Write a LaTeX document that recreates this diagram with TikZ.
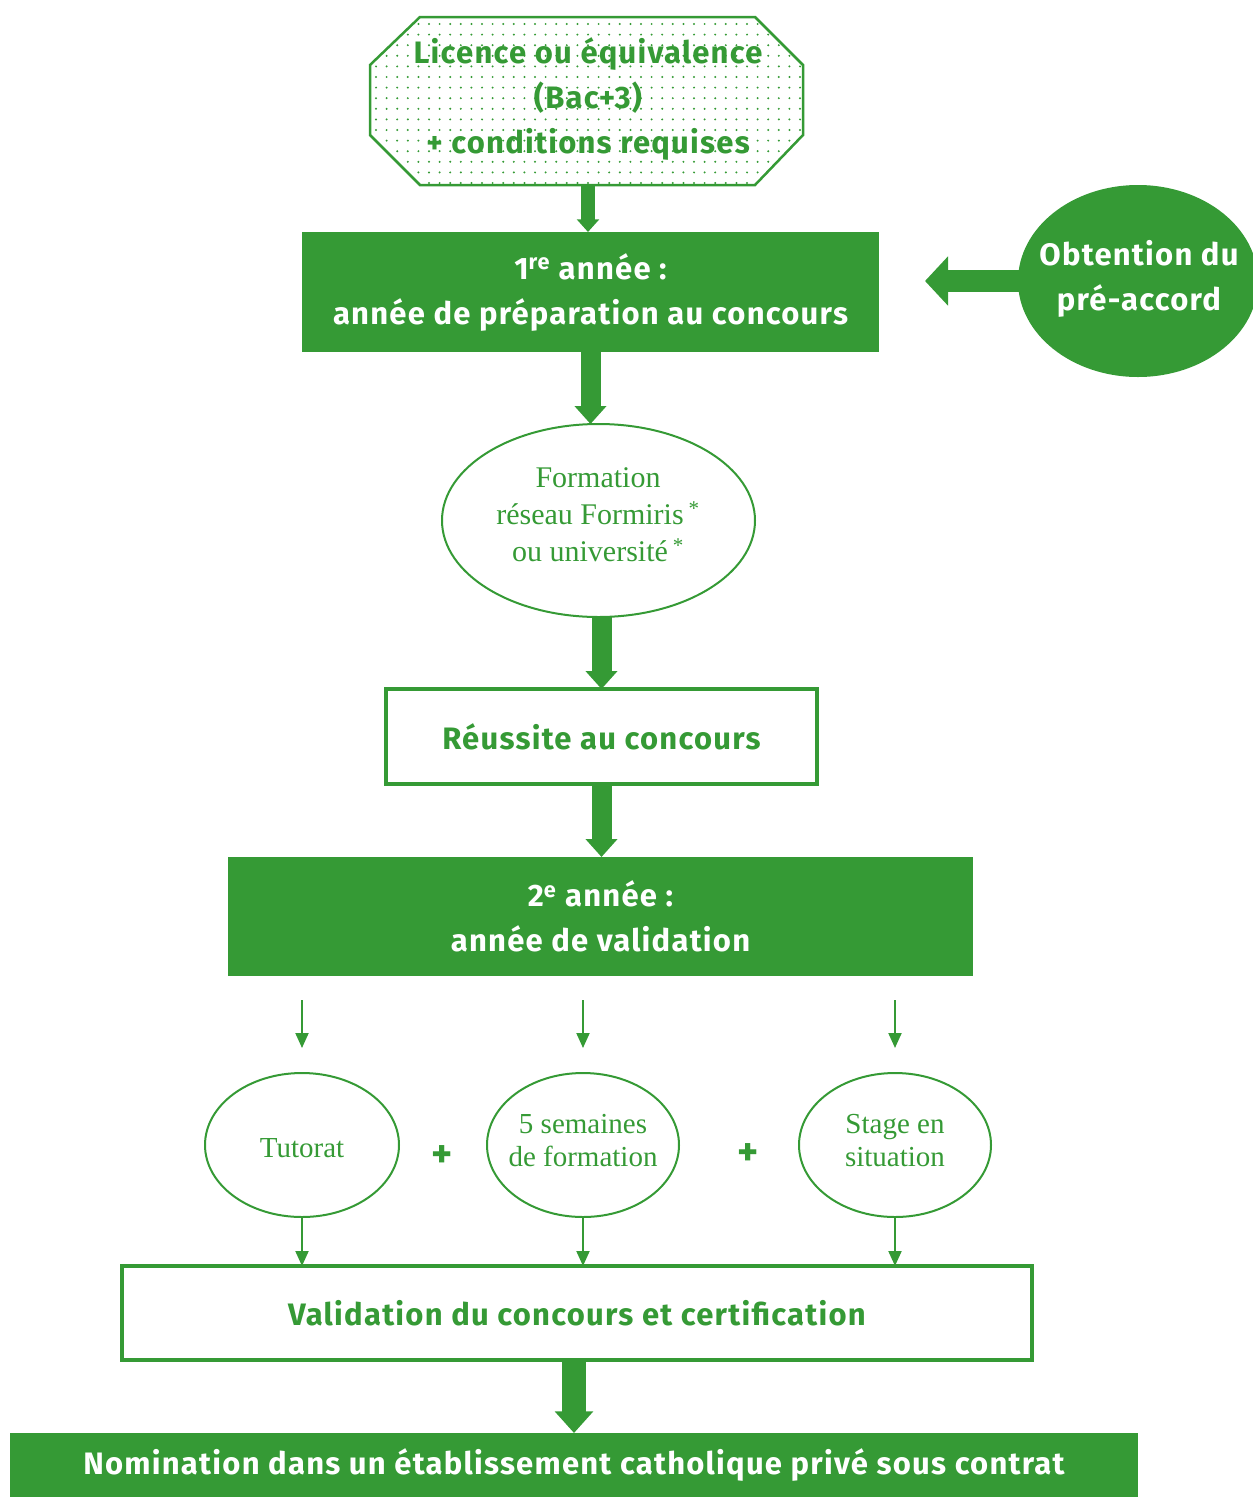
\documentclass[tikz,border=0pt]{standalone}
\usepackage{fontspec}
\setmainfont{Liberation Serif}
\newfontfamily\comic{Fira Sans}[LetterSpace=4]
\usetikzlibrary{arrows.meta,shapes.geometric,calc}
\definecolor{vert}{RGB}{53,154,53}
\begin{document}
\begin{tikzpicture}[x=1pt,y=-1pt,
  every node/.style={inner sep=0pt, outer sep=0pt},
  sans/.style={font=\comic\bfseries\fontsize{31}{45}\selectfont, align=center},
  serif/.style={font=\fontsize{30}{37}\selectfont, align=center, text=vert},
  small/.style={font=\fontsize{29}{33}\selectfont, align=center, text=vert},
  greenbox/.style={rectangle, fill=vert, text=white, sans},
  whitebox/.style={rectangle, draw=vert, line width=4pt, fill=white, text=vert, sans},
  oval/.style={ellipse, draw=vert, line width=2pt},
  bigarrow/.style={draw=vert, line width=#1, -{Triangle[width=1.55*#1, length=0.9*#1]}},
  thinarrow/.style={draw=vert, line width=2pt, -{Triangle[width=13pt, length=15pt]}}]
\useasboundingbox (0,0) rectangle (1253,1497);

% octagon with dots
\path[draw=vert, line width=2.5pt] (420,17) -- (755,17) -- (803,65) -- (803,135) -- (755,185) -- (420,185) -- (370,135) -- (370,65) -- cycle;
\begin{scope}
\clip (420,17) -- (755,17) -- (803,65) -- (803,135) -- (755,185) -- (420,185) -- (370,135) -- (370,65) -- cycle;
\foreach \i in {0,...,42} {\foreach \j in {0,...,16} {\fill[vert] (376+\i*10.6, 24+\j*10.6) circle (1.1);}}
\end{scope}
\node[sans, text=vert] (lic) at (588,99) {Licence ou équivalence\\(Bac+3)\\+ conditions requises};
\coordinate (licb) at (588,185);

\node[greenbox, minimum width=577pt, minimum height=120pt] (r1) at (590.5,292) {1\textsuperscript{re} année :\\année de préparation au concours};

\node[ellipse, fill=vert, minimum width=240pt, minimum height=192pt] (ob) at (1138,281) {};
\node[sans, text=white] (obt) at (1139,279) {Obtention du\\pré-accord};

\node[oval, minimum width=313pt, minimum height=193pt] (form) at (598.5,520.5) {};
\node[serif] (formt) at (598,515) {Formation\\réseau Formiris\,\textsuperscript{*}\\ou université\,\textsuperscript{*}};

\node[whitebox, minimum width=431pt, minimum height=95pt] (r2) at (601.5,736.5) {Réussite au concours};

\node[greenbox, minimum width=745pt, minimum height=119pt] (r3) at (600.5,916.5) {2\textsuperscript{e} année :\\année de validation};

\node[oval, minimum width=194pt, minimum height=144pt] (t1) at (302,1145) {};
\node[oval, minimum width=192pt, minimum height=144pt] (t2) at (583,1145) {};
\node[oval, minimum width=192pt, minimum height=144pt] (t3) at (895,1145) {};
\node[small] (t1t) at (302,1148) {Tutorat};
\node[small] (t2t) at (583,1141) {5 semaines\\de formation};
\node[small] (t3t) at (895,1141) {Stage en\\situation};
\node[sans, text=vert, font=\comic\bfseries\fontsize{40}{40}\selectfont] (p1) at (442,1157) {+};
\node[sans, text=vert, font=\comic\bfseries\fontsize{40}{40}\selectfont] (p2) at (748,1155) {+};

\node[whitebox, minimum width=910pt, minimum height=94pt] (r4) at (577,1313) {Validation du concours et certification};

\node[greenbox, minimum width=1128pt, minimum height=64pt] (r5) at (574,1465) {Nomination dans un établissement catholique privé sous contrat};

% connectors
\draw[bigarrow=14pt] (licb) -- (licb |- r1.north);
\draw[bigarrow=20pt] (r1.south) -- (r1.south |- form.north);
\draw[bigarrow=20pt] (r2.north |- form.south) -- (r2.north);
\draw[bigarrow=20pt] (r2.south) -- (r2.south |- r3.north);
\draw[draw=vert, line width=22pt, -{Triangle[width=48pt, length=23pt]}] ([xshift=2pt]ob.west) -- ++(-95,0);
\foreach \t in {t1,t2,t3} {
  \draw[thinarrow] ($(r3.south -| \t.north)+(0,24)$) -- ($(\t.north)+(0,-25)$);
  \draw[thinarrow] (\t.south) -- (\t.south |- r4.north);
}
\draw[bigarrow=24pt] (r5.north |- r4.south) -- (r5.north);
\end{tikzpicture}
\end{document}
